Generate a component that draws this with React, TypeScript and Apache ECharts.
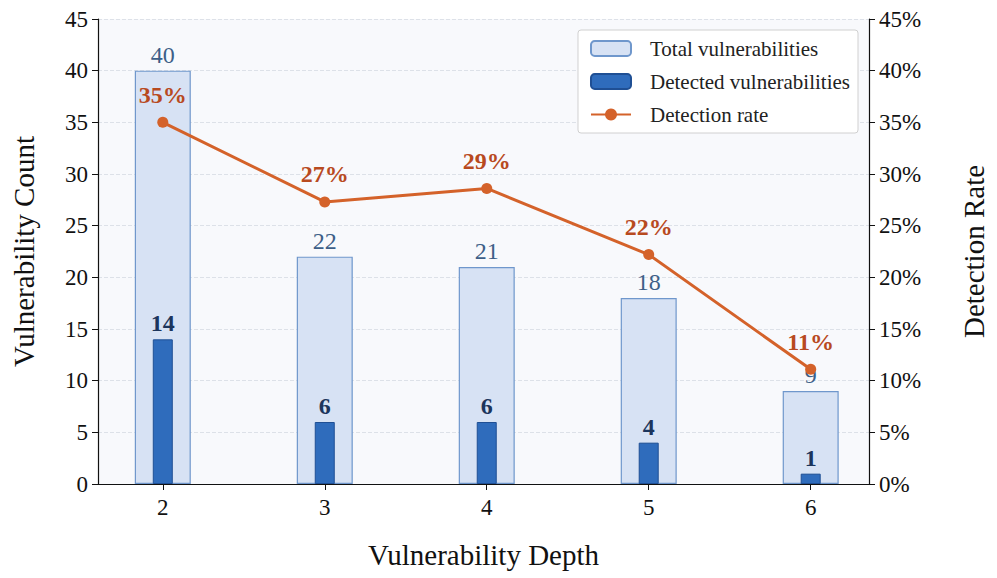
import React, { useEffect, useRef } from 'react';
import * as echarts from 'echarts';

const depths = [2, 3, 4, 5, 6];
const totalVulns = [40, 22, 21, 18, 9];
const detectedVulns = [14, 6, 6, 4, 1];
const detectionRate = [35.0, 27.3, 28.6, 22.2, 11.1];

const FONT = '"Liberation Serif", "Times New Roman", serif';

export default function App() {
  const chartRef = useRef<HTMLDivElement>(null);

  useEffect(() => {
    const chart = echarts.init(chartRef.current, null, { renderer: 'svg' });
    const xBase = { type: 'value', min: 1.6, max: 6.36 };
    const option = {
      animation: false,
      textStyle: { fontFamily: FONT },
      grid: {
        left: 98, right: 128, top: 19, bottom: 94,
        show: true, backgroundColor: '#f8f9fc', borderWidth: 0,
      },
      legend: {
        top: 30, right: 139, orient: 'vertical',
        backgroundColor: '#ffffff', borderColor: '#d0d0d0', borderWidth: 1, borderRadius: 3,
        padding: [8, 8, 8, 12], itemGap: 12, itemWidth: 40, itemHeight: 15,
        textStyle: { fontFamily: FONT, fontSize: 21, color: '#222', padding: [0, 0, 0, 14] },
        data: ['Total vulnerabilities', 'Detected vulnerabilities', 'Detection rate'],
      },
      xAxis: [
        {
          ...xBase,
          name: 'Vulnerability Depth', nameLocation: 'middle', nameGap: 56,
          nameTextStyle: { fontFamily: FONT, fontSize: 29, color: '#111' },
          axisLine: { lineStyle: { color: '#111', width: 1.2 } },
          axisTick: { show: true, customValues: depths, length: 6, lineStyle: { color: '#111' } },
          axisLabel: { customValues: depths, fontFamily: FONT, fontSize: 23, color: '#111', margin: 12 },
          splitLine: { show: false },
        },
        { ...xBase, show: false },
      ],
      yAxis: [
        {
          type: 'value', min: 0, max: 45, interval: 5,
          name: 'Vulnerability Count', nameLocation: 'middle', nameGap: 60,
          nameTextStyle: { fontFamily: FONT, fontSize: 29, color: '#111' },
          axisLine: { show: true, lineStyle: { color: '#111', width: 1.2 } },
          axisTick: { show: true, length: 6, lineStyle: { color: '#111' } },
          axisLabel: { fontFamily: FONT, fontSize: 23, color: '#111', margin: 10 },
          splitLine: { lineStyle: { color: '#dde1e8', type: 'dashed' } },
        },
        {
          type: 'value', min: 0, max: 45, interval: 5,
          name: 'Detection Rate', nameLocation: 'middle', nameGap: 90, nameRotate: 90,
          nameTextStyle: { fontFamily: FONT, fontSize: 29, color: '#111' },
          axisLine: { show: true, lineStyle: { color: '#111', width: 1.2 } },
          axisTick: { show: true, length: 6, lineStyle: { color: '#111' } },
          axisLabel: { fontFamily: FONT, fontSize: 23, color: '#111', margin: 10, formatter: '{value}%' },
          splitLine: { show: false },
        },
      ],
      series: [
        {
          name: 'Total vulnerabilities', type: 'bar', barWidth: 56, xAxisIndex: 0,
          data: depths.map((d, i) => [d, totalVulns[i]]),
          itemStyle: { color: '#d7e2f4', borderColor: '#6f97cc', borderWidth: 1.2 },
          label: {
            show: true, position: 'top', distance: 4, fontFamily: FONT, fontSize: 24, color: '#3d5f88',
            formatter: (p: any) => p.value[1],
          },
          z: 1,
        },
        {
          name: 'Detected vulnerabilities', type: 'bar', barWidth: 20, xAxisIndex: 1,
          data: depths.map((d, i) => [d, detectedVulns[i]]),
          itemStyle: { color: '#2f6cbc', borderColor: '#1f4f94', borderWidth: 1 },
          label: {
            show: true, position: 'top', distance: 4, fontFamily: FONT, fontSize: 24, fontWeight: 'bold', color: '#1c355c',
            formatter: (p: any) => p.value[1],
          },
          z: 2,
        },
        {
          name: 'Detection rate', type: 'line', yAxisIndex: 1, xAxisIndex: 0,
          data: depths.map((d, i) => [d, detectionRate[i]]),
          symbol: 'circle', symbolSize: 11,
          lineStyle: { color: '#d4622a', width: 3 },
          itemStyle: { color: '#d4622a' },
          label: {
            show: true, position: 'top', distance: 10, fontFamily: FONT, fontSize: 24, fontWeight: 'bold', color: '#b84a1f',
            formatter: (p: any) => Math.round(p.value[1]) + '%',
          },
          z: 3,
        },
      ],
    };
    chart.setOption(option);
    return () => chart.dispose();
  }, []);

  return (
    <div ref={chartRef} style={{ position: 'fixed', left: 0, top: 0, width: 997, height: 578, background: '#fff' }} />
  );
}
